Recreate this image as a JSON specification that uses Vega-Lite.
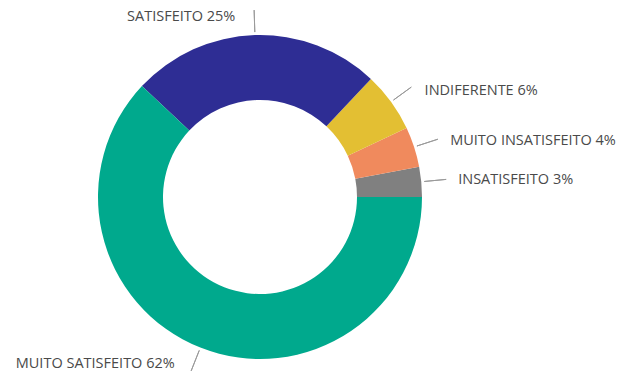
{
  "$schema": "https://vega.github.io/schema/vega-lite/v6.json",
  "width": 520,
  "height": 362,
  "autosize": "none",
  "padding": {"left": 0, "top": 16, "right": 102, "bottom": 1},
  "background": "white",
  "view": {"stroke": null},
  "data": {
    "values": [
      {"ordem": 1, "categoria": "INSATISFEITO", "pct": 3, "rotulo": "INSATISFEITO 3%"},
      {"ordem": 2, "categoria": "MUITO INSATISFEITO", "pct": 4, "rotulo": "MUITO INSATISFEITO 4%"},
      {"ordem": 3, "categoria": "INDIFERENTE", "pct": 6, "rotulo": "INDIFERENTE 6%"},
      {"ordem": 4, "categoria": "SATISFEITO", "pct": 25, "rotulo": "SATISFEITO 25%"},
      {"ordem": 5, "categoria": "MUITO SATISFEITO", "pct": 62, "rotulo": "MUITO SATISFEITO 62%"}
    ]
  },
  "layer": [
    {
      "mark": {"type": "arc", "innerRadius": 97, "outerRadius": 162},
      "encoding": {
        "theta": {"field": "pct", "type": "quantitative", "stack": true, "scale": {"range": [1.5708, -4.7124]}},
        "order": {"field": "ordem", "type": "quantitative"},
        "color": {
          "field": "categoria",
          "type": "nominal",
          "legend": null,
          "scale": {
            "domain": ["INSATISFEITO", "MUITO INSATISFEITO", "INDIFERENTE", "SATISFEITO", "MUITO SATISFEITO"],
            "range": ["#808080", "#F08A5D", "#E3BF33", "#2E2D94", "#00A98D"]
          }
        }
      }
    },
    {
      "transform": [
        {"stack": "pct", "groupby": [], "sort": [{"field": "ordem", "order": "ascending"}], "as": ["inicio", "fim"]},
        {"fold": ["inicio", "fim"], "as": ["limite", "valor"]},
        {"aggregate": [{"op": "mean", "field": "valor", "as": "meio"}], "groupby": ["categoria"]}
      ],
      "mark": {"type": "arc", "innerRadius": 165, "outerRadius": 187, "fillOpacity": 0, "stroke": "#9a9a9a", "strokeWidth": 1},
      "encoding": {
        "theta": {"field": "meio", "type": "quantitative", "stack": null},
        "theta2": {"field": "meio"}
      }
    },
    {
      "mark": {"type": "text", "radius": 180, "align": "left", "baseline": "middle", "dx": 19, "font": "Open Sans", "fontSize": 14.5, "color": "#4a4a4a"},
      "encoding": {
        "theta": {"field": "pct", "type": "quantitative", "stack": true},
        "order": {"field": "ordem", "type": "quantitative"},
        "detail": {"field": "categoria", "type": "nominal"},
        "text": {"condition": {"test": "datum.categoria !== 'SATISFEITO' && datum.categoria !== 'MUITO SATISFEITO'", "field": "rotulo"}, "value": ""}
      }
    },
    {
      "mark": {"type": "text", "radius": 180, "align": "right", "baseline": "middle", "dx": -19, "font": "Open Sans", "fontSize": 14.5, "color": "#4a4a4a"},
      "encoding": {
        "theta": {"field": "pct", "type": "quantitative", "stack": true},
        "order": {"field": "ordem", "type": "quantitative"},
        "detail": {"field": "categoria", "type": "nominal"},
        "text": {"condition": {"test": "datum.categoria === 'SATISFEITO' || datum.categoria === 'MUITO SATISFEITO'", "field": "rotulo"}, "value": ""}
      }
    }
  ]
}
